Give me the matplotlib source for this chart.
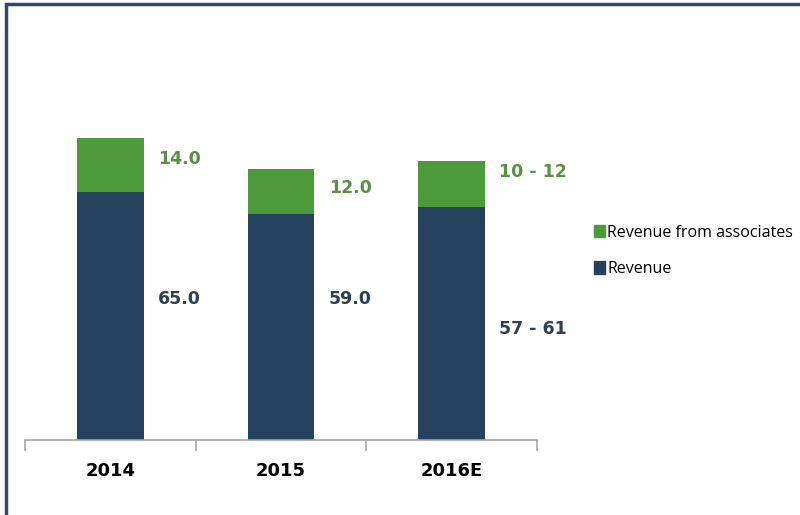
import matplotlib.pyplot as plt
from matplotlib.patches import Rectangle, Patch

# revenue split per year (2016E drawn at the top of the guided range)
years = ['2014', '2015', '2016E']
revenue = [65.0, 59.0, 61.0]
associates = [14.0, 12.0, 12.0]
revenue_labels = ['65.0', '59.0', '57 - 61']
associates_labels = ['14.0', '12.0', '10 - 12']

navy = '#25415e'
green = '#4c9a3c'
green_text = '#5b8f45'
navy_text = '#2b3f55'

fig = plt.figure(figsize=(8, 5.15), dpi=100)
ax = fig.add_axes([25 / 800, 1 - 440 / 515, (537 - 25) / 800, 344 / 515])

x = list(range(len(years)))
ax.bar(x, revenue, width=0.39, color=navy, label='Revenue')
ax.bar(x, associates, width=0.39, bottom=revenue, color=green,
       label='Revenue from associates')

# value labels to the right of each bar
rev_label_y = [37, 37, 29]
assoc_label_y = [73.5, 66, 70]
for i in x:
    ax.text(i + 0.28, assoc_label_y[i], associates_labels[i], color=green_text,
            fontsize=12.5, fontweight='bold', va='center', ha='left',
            family='DejaVu Sans')
    ax.text(i + 0.28, rev_label_y[i], revenue_labels[i], color=navy_text,
            fontsize=12.5, fontweight='bold', va='center', ha='left',
            family='DejaVu Sans')

ax.set_xlim(-0.5, 2.5)
ax.set_ylim(0, 90)
for s in ['top', 'right', 'left']:
    ax.spines[s].set_visible(False)
ax.spines['bottom'].set_color('#a6a6a6')
ax.spines['bottom'].set_linewidth(1.2)
ax.set_yticks([])
ax.set_xticks(x)
ax.set_xticklabels(years, fontsize=13, fontweight='bold', family='DejaVu Sans')
ax.tick_params(axis='x', which='major', length=0, pad=16)
ax.set_xticks([-0.5, 0.5, 1.5, 2.5], minor=True)
ax.tick_params(axis='x', which='minor', length=8, color='#a6a6a6', width=1.2)

handles = [Patch(color=green), Patch(color=navy)]
fig.legend(handles, ['Revenue from associates', 'Revenue'],
           loc='center left', bbox_to_anchor=(580 / 800, 1 - 251 / 515),
           frameon=False, handlelength=0.65, handleheight=0.85,
           handletextpad=0.15, labelspacing=1.3, prop={'family': 'Open Sans', 'size': 11.5})

# outer frame
fig.patches.append(Rectangle((6 / 800, -0.05), 1.1, 1 - 4 / 515 + 0.05,
                             transform=fig.transFigure, fill=False,
                             edgecolor='#2e4a66', linewidth=2.5, clip_on=False))

fig.savefig('out.png', dpi=100)
